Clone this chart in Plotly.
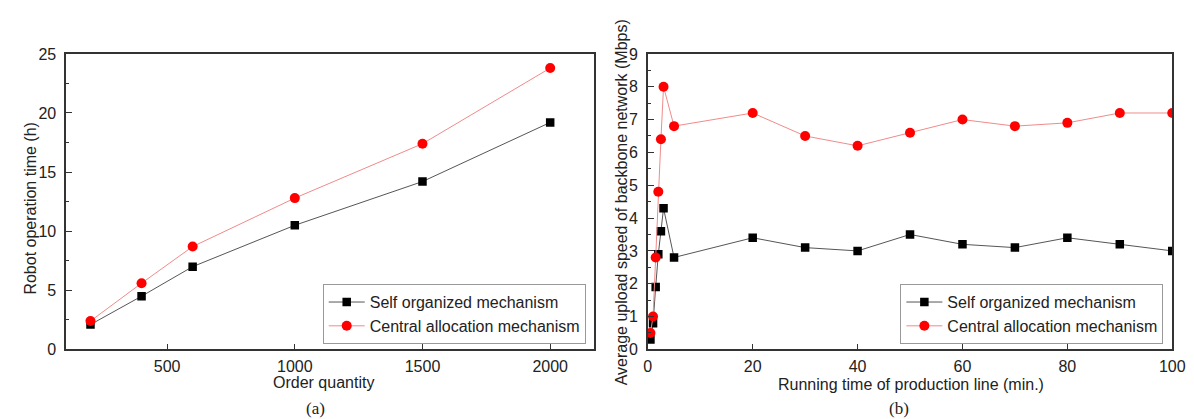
import plotly.graph_objects as go

# ---- data: panel (a) ----
order_qty = [200, 400, 600, 1000, 1500, 2000]
self_time = [2.1, 4.5, 7.0, 10.5, 14.2, 19.2]
central_time = [2.4, 5.6, 8.7, 12.8, 17.4, 23.8]

# ---- data: panel (b) ----
run_time = [0.5, 1, 1.5, 2, 2.5, 3, 5, 20, 30, 40, 50, 60, 70, 80, 90, 100]
self_speed = [0.3, 0.8, 1.9, 2.9, 3.6, 4.3, 2.8, 3.4, 3.1, 3.0, 3.5, 3.2, 3.1, 3.4, 3.2, 3.0]
central_speed = [0.5, 1.0, 2.8, 4.8, 6.4, 8.0, 6.8, 7.2, 6.5, 6.2, 6.6, 7.0, 6.8, 6.9, 7.2, 7.2]

series_names = ["Self organized mechanism", "Central allocation mechanism"]

FONT = "Arial, 'Liberation Sans', sans-serif"
FS = 16
W, H = 1194, 419

def px_x(p):
    return p / W

def px_y(p):
    return 1 - p / H

fig = go.Figure()

self_style = dict(mode="lines+markers",
                  line=dict(color="#555555", width=1),
                  marker=dict(symbol="square", size=8.5, color="#000000"))
central_style = dict(mode="lines+markers",
                     line=dict(color="#f08a8a", width=1),
                     marker=dict(symbol="circle", size=10, color="#ff0000"))

fig.add_trace(go.Scatter(x=order_qty, y=self_time, name=series_names[0],
                         xaxis="x", yaxis="y", legend="legend", **self_style))
fig.add_trace(go.Scatter(x=order_qty, y=central_time, name=series_names[1],
                         xaxis="x", yaxis="y", legend="legend", **central_style))
fig.add_trace(go.Scatter(x=run_time, y=self_speed, name=series_names[0],
                         xaxis="x2", yaxis="y2", legend="legend2", **self_style))
fig.add_trace(go.Scatter(x=run_time, y=central_speed, name=series_names[1],
                         xaxis="x2", yaxis="y2", legend="legend2", **central_style))

axis_common = dict(showline=True, linecolor="#333333", linewidth=1.5, mirror=True,
                   ticks="inside", ticklen=6, tickwidth=1.3, tickcolor="#333333",
                   showgrid=False, zeroline=False,
                   tickfont=dict(family=FONT, size=FS, color="#222222"))

y_dom = [px_y(347.5), px_y(39.5)]

legend_common = dict(xanchor="right", yanchor="bottom",
                     bordercolor="#999999", borderwidth=1, bgcolor="white",
                     font=dict(family=FONT, size=FS, color="#222222"),
                     tracegroupgap=0, itemwidth=36)

fig.update_layout(
    width=W, height=H,
    margin=dict(l=0, r=0, t=0, b=0),
    paper_bgcolor="white", plot_bgcolor="white",
    font=dict(family=FONT, size=FS, color="#222222"),
    xaxis=dict(domain=[px_x(55), px_x(590)], range=[105, 2170], tickvals=[500, 1000, 1500, 2000],
               anchor="y", ticklabelstandoff=2, **axis_common),
    yaxis=dict(domain=y_dom, range=[0, 25], dtick=5, anchor="x", ticklabelstandoff=5,
               minor=dict(ticks="inside", ticklen=3.5, dtick=2.5, tickcolor="#333333", tickwidth=1.2),
               **axis_common),
    xaxis2=dict(domain=[px_x(645), px_x(1177)], range=[0, 100], dtick=20,
                anchor="y2", ticklabelstandoff=2, **axis_common),
    yaxis2=dict(domain=y_dom, range=[0, 9], dtick=1, anchor="x2", ticklabelstandoff=5,
                minor=dict(ticks="inside", ticklen=3.5, dtick=0.5, tickcolor="#333333", tickwidth=1.2),
                **axis_common),
    legend=dict(x=px_x(582), y=px_y(342), **legend_common),
    legend2=dict(x=px_x(1168), y=px_y(342), **legend_common),
    showlegend=True,
)

annots = [
    dict(text="Robot operation time (h)", x=px_x(19), y=px_y(200), textangle=-90),
    dict(text="Order quantity", x=px_x(316), y=px_y(382)),
    dict(text="Average upload speed of backbone network (Mbps)", x=px_x(618), y=px_y(194), textangle=-90),
    dict(text="Running time of production line (min.)", x=px_x(912), y=px_y(384)),
]
for a in annots:
    fig.add_annotation(xref="paper", yref="paper", showarrow=False,
                       xanchor="center", yanchor="middle",
                       font=dict(family=FONT, size=FS, color="#222222"), **a)

for label, xc in [("(a)", 308), ("(b)", 900)]:
    fig.add_annotation(xref="paper", yref="paper", showarrow=False,
                       x=px_x(xc), y=px_y(409), xanchor="center", yanchor="middle",
                       text=label,
                       font=dict(family="'Times New Roman', 'Liberation Serif', serif", size=17, color="#222222"))

fig.write_html("out.html")
